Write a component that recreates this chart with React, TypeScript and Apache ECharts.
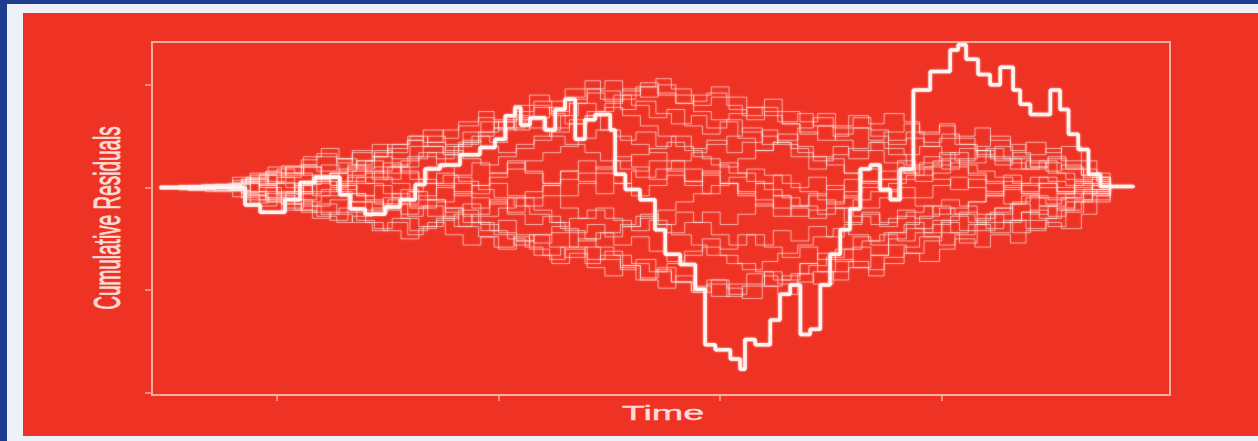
import React, { useEffect, useRef } from "react";
import * as echarts from "echarts";

// Axis ticks (no labels in the reference)
const xTicks = [50, 100, 150, 200];
const yTicks = [-2, -1, 0, 1];

// Observed cumulative residual process: [time, value] at each step start
const observed: [number, number][] = [
  [23.6, 0], [42.8, -0.17], [46.2, -0.24], [51.8, -0.12], [55.2, 0.05], [58.6, 0.1],
  [64.2, -0.07], [66.5, -0.21], [69.9, -0.26], [74.4, -0.19], [77.8, -0.12], [81.2, 0.03],
  [83.4, 0.18], [86.8, 0.22], [91.3, 0.32], [95.8, 0.39], [99.2, 0.47], [101.5, 0.7],
  [103.7, 0.78], [105.0, 0.61], [107.1, 0.68], [110.5, 0.56], [112.8, 0.76], [115.0, 0.86],
  [117.3, 0.47], [119.5, 0.66], [121.8, 0.71], [125.2, 0.56], [126.3, 0.13], [128.6, -0.02],
  [131.9, -0.12], [135.3, -0.41], [137.6, -0.65], [141.0, -0.75], [144.4, -0.99], [146.6, -1.53],
  [148.9, -1.58], [152.3, -1.67], [154.5, -1.77], [155.6, -1.48], [157.9, -1.53], [161.3, -1.29],
  [163.5, -1.04], [165.8, -0.95], [168.1, -1.43], [170.3, -1.38], [172.6, -0.95], [174.8, -0.65],
  [177.1, -0.41], [179.3, -0.21], [181.6, 0.18], [183.9, 0.22], [186.1, -0.02], [188.4, -0.12],
  [190.6, 0.18], [193.6, 0.95], [197.4, 1.13], [201.9, 1.34], [203.7, 1.39], [205.5, 1.25],
  [208.2, 1.1], [210.9, 1.0], [213.2, 1.17], [216.1, 0.95], [217.7, 0.81], [220.0, 0.71],
  [224.5, 0.95], [226.7, 0.76], [228.6, 0.52], [230.8, 0.37], [233.1, 0.13], [235.8, 0.01],
  [243.2, 0.0],
];

// Jump times of the simulated (resampled) processes, three staggered grids
const simTimesA = [23.6, 30, 36, 42, 46, 50, 54, 58, 62, 66, 70, 74, 78, 82, 86, 90, 94, 98, 102,
  106, 110, 114, 118, 122, 126, 130, 134, 138, 142, 146, 150, 154, 158, 162, 166, 170, 174, 178,
  182, 186, 190, 194, 198, 202, 206, 210, 214, 218, 222, 226, 230, 234, 238];
const simTimesB = [23.6, 28, 34, 40, 44, 48, 52, 56, 60, 64, 68, 72, 76, 80, 84, 88, 92, 96, 100,
  104, 108, 112, 116, 120, 124, 128, 132, 136, 140, 144, 148, 152, 156, 160, 164, 168, 172, 176,
  180, 184, 188, 192, 196, 200, 204, 208, 212, 216, 220, 224, 228, 232, 238];
const simTimesC = [23.6, 33, 39, 43, 47.5, 51, 55.5, 59, 63.5, 67, 71.5, 75, 79.5, 83, 87.5, 91,
  95.5, 99, 103.5, 107, 111.5, 115, 119.5, 123, 127.5, 131, 135.5, 139, 143.5, 147, 151.5, 155,
  159.5, 163, 167.5, 171, 175.5, 179, 183.5, 187, 191.5, 195, 199.5, 203, 207.5, 211, 215.5, 219,
  223.5, 227, 231.5, 235, 238];

// Simulated paths on grid A
const simulatedA: number[][] = [
  [0, 0.02, -0.01, -0.06, -0.12, -0.05, 0.04, 0.10, 0.02, 0.12,
    0.20, 0.14, 0.26, 0.34, 0.28, 0.40, 0.50, 0.44, 0.58, 0.66,
    0.56, 0.70, 0.82, 0.74, 0.90, 0.80, 0.68, 0.76, 0.60, 0.52,
    0.64, 0.48, 0.36, 0.44, 0.30, 0.18, 0.28, 0.14, 0.04, 0.16,
    0.26, 0.12, 0.22, 0.34, 0.24, 0.38, 0.28, 0.18, 0.26, 0.14,
    0.06, 0.10, 0],
  [0, 0.00, -0.03, -0.10, -0.18, -0.12, -0.22, -0.30, -0.24, -0.14,
    -0.22, -0.10, -0.02, -0.12, 0.00, 0.10, 0.02, 0.14, 0.24, 0.14,
    0.04, 0.16, 0.26, 0.18, 0.30, 0.20, 0.08, 0.18, 0.06, -0.06,
    0.04, -0.08, -0.18, -0.08, -0.20, -0.30, -0.20, -0.34, -0.26, -0.38,
    -0.28, -0.40, -0.32, -0.44, -0.36, -0.26, -0.34, -0.24, -0.30, -0.20,
    -0.12, -0.06, 0],
  [0, -0.01, -0.03, -0.05, 0.03, 0.10, 0.02, -0.08, 0.00, 0.10,
    0.04, -0.06, -0.16, -0.08, 0.04, -0.08, -0.20, -0.12, -0.26, -0.36,
    -0.28, -0.40, -0.52, -0.44, -0.56, -0.48, -0.62, -0.72, -0.62, -0.50,
    -0.60, -0.46, -0.56, -0.42, -0.52, -0.38, -0.48, -0.36, -0.24, -0.34,
    -0.22, -0.30, -0.18, -0.26, -0.14, -0.06, -0.16, -0.08, -0.18, -0.10,
    -0.04, -0.08, 0],
  [0, -0.02, 0.02, 0.05, -0.04, 0.05, -0.06, 0.04, 0.14, 0.06,
    0.16, 0.08, 0.20, 0.30, 0.22, 0.12, 0.24, 0.14, 0.26, 0.16,
    0.04, 0.16, 0.06, -0.06, 0.04, -0.08, 0.02, 0.12, 0.02, 0.14,
    0.24, 0.14, 0.04, 0.12, 0.00, 0.10, -0.02, 0.08, 0.18, 0.08,
    0.16, 0.06, 0.14, 0.24, 0.14, 0.04, 0.12, 0.02, 0.10, 0.00,
    0.06, 0.02, 0],
  [0, -0.03, 0.02, 0.08, 0.02, -0.08, -0.16, -0.24, -0.32, -0.24,
    -0.34, -0.42, -0.50, -0.40, -0.30, -0.38, -0.26, -0.14, -0.24, -0.10,
    0.02, -0.08, 0.04, 0.14, 0.04, 0.16, 0.26, 0.16, 0.06, 0.16,
    0.04, -0.06, 0.04, -0.08, -0.18, -0.08, 0.02, -0.10, -0.20, -0.10,
    0.00, -0.10, 0.02, 0.10, 0.00, -0.08, 0.02, -0.06, 0.04, -0.04,
    0.04, -0.02, 0],
  [0, -0.01, 0.03, 0.06, 0.12, 0.04, -0.04, 0.06, 0.14, 0.22,
    0.14, 0.24, 0.16, 0.04, 0.14, 0.04, -0.06, 0.04, -0.08, -0.18,
    -0.08, -0.20, -0.30, -0.20, -0.32, -0.42, -0.32, -0.44, -0.34, -0.24,
    -0.36, -0.26, -0.16, -0.28, -0.18, -0.06, -0.16, -0.04, 0.06, -0.04,
    0.08, 0.18, 0.08, -0.02, 0.08, -0.04, 0.06, -0.04, 0.04, -0.06,
    0.02, -0.04, 0],
  [0, 0.01, 0.03, 0.08, 0.13, 0.18, 0.14, 0.08, 0.02, -0.06,
    -0.12, -0.20, -0.26, -0.20, -0.14, -0.06, 0.02, 0.10, 0.18, 0.26,
    0.34, 0.40, 0.48, 0.56, 0.50, 0.42, 0.34, 0.26, 0.18, 0.12,
    0.04, -0.04, -0.12, -0.20, -0.28, -0.22, -0.14, -0.08, 0.00, 0.08,
    0.14, 0.20, 0.26, 0.20, 0.12, 0.06, 0.00, -0.06, -0.10, -0.06,
    -0.02, 0.02, 0],
  [0, 0.00, 0.02, 0.06, 0.02, -0.04, 0.02, 0.08, 0.14, 0.20,
    0.26, 0.20, 0.14, 0.08, 0.02, -0.04, -0.10, -0.16, -0.10, -0.04,
    0.02, 0.08, 0.14, 0.20, 0.26, 0.32, 0.38, 0.44, 0.36, 0.28,
    0.20, 0.28, 0.36, 0.44, 0.38, 0.30, 0.22, 0.14, 0.06, -0.02,
    -0.10, -0.18, -0.26, -0.20, -0.14, -0.08, -0.02, 0.04, 0.00, -0.04,
    0.00, 0.02, 0],
  [0, -0.02, 0.00, 0.04, 0.00, -0.06, -0.12, -0.18, -0.12, -0.06,
    -0.14, -0.22, -0.30, -0.38, -0.32, -0.26, -0.34, -0.42, -0.50, -0.58,
    -0.66, -0.58, -0.50, -0.58, -0.66, -0.74, -0.82, -0.74, -0.66, -0.58,
    -0.66, -0.74, -0.82, -0.90, -0.84, -0.76, -0.68, -0.60, -0.52, -0.46,
    -0.52, -0.44, -0.36, -0.28, -0.34, -0.40, -0.32, -0.24, -0.18, -0.22,
    -0.14, -0.06, 0],
];

// Simulated paths on grid B
const simulatedB: number[][] = [
  [0, -0.02, 0.01, 0.05, 0.12, 0.06, 0.14, 0.20, 0.10, 0.02,
    -0.08, -0.16, -0.06, -0.18, -0.28, -0.20, -0.34, -0.42, -0.32, -0.46,
    -0.54, -0.44, -0.58, -0.70, -0.62, -0.76, -0.88, -0.78, -0.92, -1.02,
    -0.90, -1.04, -0.94, -0.82, -0.90, -0.74, -0.64, -0.72, -0.58, -0.66,
    -0.50, -0.40, -0.48, -0.34, -0.42, -0.30, -0.20, -0.32, -0.22, -0.28,
    -0.14, -0.06, 0],
  [0, -0.02, 0.02, 0.04, -0.04, -0.12, -0.06, -0.18, -0.26, -0.20,
    -0.32, -0.40, -0.30, -0.42, -0.34, -0.46, -0.56, -0.48, -0.60, -0.52,
    -0.66, -0.74, -0.64, -0.78, -0.86, -0.76, -0.90, -0.98, -0.86, -0.96,
    -1.06, -0.94, -0.84, -0.96, -0.86, -0.74, -0.82, -0.70, -0.78, -0.66,
    -0.56, -0.64, -0.52, -0.44, -0.54, -0.42, -0.34, -0.44, -0.32, -0.38,
    -0.24, -0.12, 0],
  [0, 0.01, 0.03, -0.03, 0.06, 0.14, 0.20, 0.12, 0.22, 0.16,
    0.26, 0.36, 0.28, 0.40, 0.50, 0.42, 0.54, 0.64, 0.56, 0.68,
    0.78, 0.70, 0.82, 0.92, 0.84, 0.96, 0.88, 1.00, 0.90, 0.80,
    0.88, 0.76, 0.66, 0.74, 0.62, 0.52, 0.60, 0.46, 0.36, 0.44,
    0.32, 0.22, 0.30, 0.18, 0.28, 0.36, 0.26, 0.34, 0.24, 0.30,
    0.20, 0.10, 0],
  [0, 0.02, 0.01, 0.07, 0.14, 0.20, 0.12, 0.20, 0.12, 0.02,
    -0.08, 0.02, -0.10, -0.20, -0.12, -0.24, -0.16, -0.28, -0.20, -0.10,
    -0.22, -0.34, -0.44, -0.36, -0.48, -0.38, -0.26, -0.36, -0.24, -0.34,
    -0.46, -0.56, -0.46, -0.58, -0.68, -0.58, -0.70, -0.60, -0.48, -0.56,
    -0.44, -0.34, -0.44, -0.32, -0.24, -0.34, -0.26, -0.16, -0.26, -0.18,
    -0.10, -0.04, 0],
  [0, 0.02, -0.01, 0.10, 0.04, 0.12, 0.20, 0.30, 0.38, 0.28,
    0.18, 0.30, 0.20, 0.08, 0.20, 0.32, 0.44, 0.54, 0.64, 0.74,
    0.84, 0.74, 0.86, 0.96, 1.04, 0.94, 1.02, 0.92, 0.82, 0.90,
    0.98, 0.88, 0.78, 0.86, 0.74, 0.64, 0.72, 0.60, 0.68, 0.56,
    0.46, 0.54, 0.44, 0.52, 0.42, 0.32, 0.40, 0.30, 0.20, 0.28,
    0.18, 0.08, 0],
  [0, -0.02, -0.04, -0.09, -0.15, -0.10, -0.04, 0.03, 0.10, 0.18,
    0.26, 0.34, 0.42, 0.50, 0.44, 0.36, 0.28, 0.22, 0.30, 0.38,
    0.46, 0.54, 0.62, 0.70, 0.78, 0.70, 0.60, 0.50, 0.40, 0.30,
    0.22, 0.14, 0.06, -0.02, -0.10, -0.18, -0.26, -0.20, -0.12, -0.04,
    0.04, 0.12, 0.20, 0.28, 0.22, 0.16, 0.10, 0.04, 0.10, 0.06,
    0.02, 0.04, 0],
  [0, -0.01, 0.01, -0.03, -0.08, -0.14, -0.20, -0.14, -0.08, -0.02,
    0.04, 0.10, 0.04, -0.04, -0.12, -0.20, -0.28, -0.36, -0.44, -0.52,
    -0.46, -0.38, -0.30, -0.22, -0.30, -0.38, -0.30, -0.22, -0.14, -0.06,
    0.02, 0.10, 0.18, 0.12, 0.04, -0.04, -0.12, -0.20, -0.28, -0.36,
    -0.30, -0.24, -0.18, -0.12, -0.18, -0.26, -0.20, -0.14, -0.08, -0.12,
    -0.06, -0.02, 0],
  [0, 0.01, -0.01, 0.03, 0.08, 0.04, 0.00, -0.06, -0.02, 0.04,
    0.10, 0.16, 0.22, 0.28, 0.34, 0.40, 0.46, 0.40, 0.34, 0.42,
    0.50, 0.58, 0.66, 0.74, 0.82, 0.90, 0.98, 0.90, 0.82, 0.74,
    0.66, 0.72, 0.78, 0.70, 0.62, 0.54, 0.46, 0.52, 0.58, 0.50,
    0.42, 0.48, 0.40, 0.32, 0.38, 0.30, 0.22, 0.28, 0.20, 0.14,
    0.08, 0.04, 0],
];

// Simulated paths on grid C
const simulatedC: number[][] = [
  [0, 0.01, 0.03, 0.10, 0.04, 0.14, 0.22, 0.16, 0.28, 0.36,
    0.30, 0.42, 0.50, 0.44, 0.56, 0.64, 0.74, 0.66, 0.80, 0.90,
    0.84, 0.96, 1.04, 0.94, 0.86, 0.98, 1.06, 0.96, 0.84, 0.92,
    0.80, 0.70, 0.78, 0.64, 0.72, 0.60, 0.50, 0.58, 0.46, 0.54,
    0.62, 0.52, 0.60, 0.48, 0.40, 0.50, 0.42, 0.32, 0.38, 0.26,
    0.18, 0.10, 0],
  [0, 0.03, 0.00, 0.08, 0.16, 0.10, 0.22, 0.30, 0.24, 0.34,
    0.42, 0.34, 0.46, 0.56, 0.48, 0.60, 0.68, 0.58, 0.70, 0.80,
    0.72, 0.62, 0.70, 0.56, 0.46, 0.54, 0.40, 0.50, 0.38, 0.46,
    0.34, 0.44, 0.56, 0.46, 0.58, 0.68, 0.58, 0.70, 0.62, 0.72,
    0.64, 0.54, 0.62, 0.50, 0.58, 0.46, 0.36, 0.44, 0.34, 0.40,
    0.26, 0.14, 0],
  [0, 0.00, -0.02, -0.12, -0.06, -0.16, -0.24, -0.16, -0.26, -0.34,
    -0.42, -0.34, -0.46, -0.38, -0.28, -0.38, -0.48, -0.58, -0.48, -0.60,
    -0.70, -0.60, -0.74, -0.66, -0.78, -0.90, -0.80, -0.92, -1.00, -0.90,
    -0.98, -1.08, -0.96, -1.04, -0.92, -0.82, -0.90, -0.78, -0.86, -0.74,
    -0.64, -0.72, -0.60, -0.50, -0.58, -0.46, -0.54, -0.42, -0.34, -0.40,
    -0.26, -0.14, 0],
  [0, 0.00, -0.03, -0.07, -0.14, -0.22, -0.12, -0.04, 0.06, 0.16,
    0.08, 0.20, 0.30, 0.40, 0.32, 0.44, 0.54, 0.64, 0.56, 0.68,
    0.78, 0.88, 0.96, 0.86, 0.76, 0.84, 0.72, 0.62, 0.70, 0.58,
    0.66, 0.54, 0.42, 0.52, 0.40, 0.30, 0.40, 0.28, 0.36, 0.24,
    0.14, 0.24, 0.34, 0.26, 0.36, 0.28, 0.18, 0.26, 0.16, 0.22,
    0.12, 0.06, 0],
  [0, 0.01, -0.02, -0.08, 0.00, -0.10, -0.04, 0.06, -0.04, -0.14,
    -0.24, -0.16, -0.28, -0.18, -0.30, -0.22, -0.34, -0.46, -0.56, -0.46,
    -0.58, -0.68, -0.58, -0.70, -0.80, -0.70, -0.82, -0.92, -1.02, -0.94,
    -1.06, -0.96, -0.86, -0.94, -0.84, -0.94, -0.82, -0.72, -0.80, -0.68,
    -0.58, -0.48, -0.56, -0.46, -0.36, -0.44, -0.32, -0.40, -0.30, -0.22,
    -0.14, -0.08, 0],
  [0, 0.02, 0.00, -0.04, -0.10, -0.16, -0.22, -0.28, -0.34, -0.28,
    -0.20, -0.12, -0.04, 0.04, 0.12, 0.06, -0.02, -0.10, -0.18, -0.26,
    -0.34, -0.42, -0.50, -0.44, -0.36, -0.28, -0.36, -0.46, -0.56, -0.66,
    -0.74, -0.80, -0.72, -0.64, -0.56, -0.48, -0.40, -0.46, -0.52, -0.44,
    -0.36, -0.28, -0.20, -0.26, -0.32, -0.24, -0.16, -0.10, -0.16, -0.10,
    -0.06, -0.02, 0],
  [0, 0.02, 0.04, 0.09, 0.15, 0.21, 0.27, 0.33, 0.28, 0.22,
    0.30, 0.38, 0.46, 0.40, 0.34, 0.42, 0.50, 0.58, 0.66, 0.58,
    0.50, 0.42, 0.34, 0.26, 0.18, 0.10, 0.18, 0.26, 0.34, 0.42,
    0.50, 0.58, 0.50, 0.42, 0.34, 0.26, 0.32, 0.38, 0.44, 0.38,
    0.32, 0.40, 0.48, 0.42, 0.36, 0.30, 0.24, 0.18, 0.24, 0.18,
    0.12, 0.06, 0],
];

const FRAME = "#f8ab9f";
const TEXT = "#fddcd5";

function zipPath(times: number[], vals: number[]): [number, number][] {
  const n = Math.min(times.length, vals.length);
  const out: [number, number][] = [];
  for (let i = 0; i < n; i++) out.push([times[i], vals[i]]);
  return out;
}

export default function App() {
  const ref = useRef<HTMLDivElement>(null);

  useEffect(() => {
    document.body.style.margin = "0";
    if (!ref.current) return;
    const chart = echarts.init(ref.current, undefined, { renderer: "svg" });

    const faint = (times: number[], vals: number[]) => ({
      type: "line",
      step: "end",
      symbol: "none",
      silent: true,
      data: zipPath(times, vals),
      lineStyle: {
        color: "rgba(255,236,230,0.5)",
        width: 1,
        shadowBlur: 2,
        shadowColor: "rgba(255,230,225,0.55)",
      },
    });

    const series: any[] = [
      ...simulatedA.map((v) => faint(simTimesA, v)),
      ...simulatedB.map((v) => faint(simTimesB, v)),
      ...simulatedC.map((v) => faint(simTimesC, v)),
      {
        type: "line",
        step: "end",
        symbol: "none",
        silent: true,
        data: observed,
        lineStyle: {
          color: "#fff4f1",
          width: 3.5,
          shadowBlur: 2,
          shadowColor: "rgba(255,235,230,0.8)",
        },
      },
    ];

    chart.setOption({
      animation: false,
      backgroundColor: "transparent",
      grid: {
        left: 152,
        top: 42,
        width: 1018,
        height: 353,
        show: true,
        borderColor: FRAME,
        borderWidth: 2,
        backgroundColor: "transparent",
      },
      xAxis: {
        type: "value",
        min: 21.8,
        max: 251.5,
        axisLine: { show: false, onZero: false },
        splitLine: { show: false },
        axisLabel: { show: false },
        axisTick: {
          show: true,
          customValues: xTicks,
          length: 6,
          lineStyle: { color: FRAME, width: 1.5 },
        },
      },
      yAxis: {
        type: "value",
        min: -2.02,
        max: 1.417,
        axisLine: { show: false, onZero: false },
        splitLine: { show: false },
        axisLabel: { show: false },
        axisTick: {
          show: true,
          customValues: yTicks,
          length: 7,
          lineStyle: { color: FRAME, width: 1.5 },
        },
      },
      graphic: [
        {
          type: "text",
          x: 107,
          y: 218,
          rotation: Math.PI / 2,
          scaleY: 1.9,
          style: {
            text: "Cumulative Residuals",
            fontSize: 19,
            fontFamily: "Liberation Sans, Arial, sans-serif",
            fill: TEXT,
            stroke: TEXT,
            lineWidth: 0.5,
            align: "center",
            verticalAlign: "middle",
          },
        },
        {
          type: "text",
          x: 663,
          y: 412,
          scaleX: 1.8,
          style: {
            text: "Time",
            fontSize: 21,
            fontFamily: "Liberation Sans, Arial, sans-serif",
            fill: TEXT,
            stroke: TEXT,
            lineWidth: 0.4,
            align: "center",
            verticalAlign: "middle",
          },
        },
      ],
      series,
    });

    return () => chart.dispose();
  }, []);

  return (
    <div style={{ position: "relative", width: 1258, height: 441, background: "#1f3c90", overflow: "hidden" }}>
      <div style={{ position: "absolute", left: 7, top: 4, right: 0, bottom: 0, background: "#eef2f8" }} />
      <div style={{ position: "absolute", left: 23, top: 13, right: 0, bottom: 5, background: "#ee3224" }} />
      <div ref={ref} style={{ position: "absolute", left: 0, top: 0, width: 1258, height: 441 }} />
    </div>
  );
}
